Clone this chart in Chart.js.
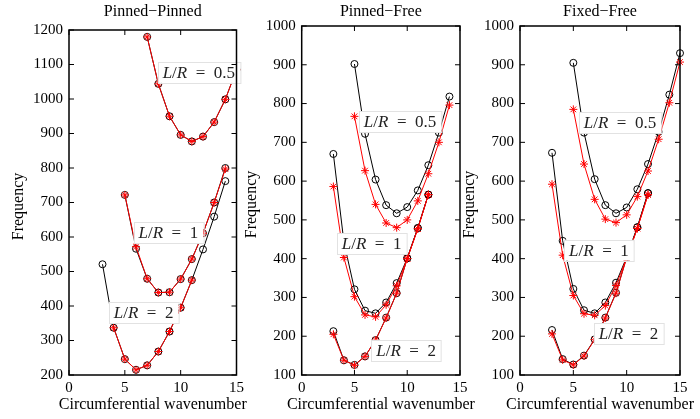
<!DOCTYPE html>
<html>
<head>
<meta charset="utf-8">
<script src="https://cdn.jsdelivr.net/npm/chart.js@4.4.1/dist/chart.umd.min.js"></script>
<style>
  body { margin: 0; background: #fff; }
  #wrap { position: relative; width: 700px; height: 419px; }
  canvas { position: absolute; top: 0; }
</style>
</head>
<body>
<div id="wrap">
  <canvas id="c1" width="262" height="419" style="left:0px"></canvas>
  <canvas id="c2" width="245" height="419" style="left:240px"></canvas>
  <canvas id="c3" width="245" height="419" style="left:455px"></canvas>
</div>
<script>
// Pinned-Pinned
const ppX05 = [7, 8, 9, 10, 11, 12, 13, 14, 15];
const ppBlack05 = [1180, 1044, 950, 896, 877, 891, 933, 999, 1085];
const ppRed05 = [1180, 1044, 950, 896, 877, 891, 933, 999, 1085];
const ppX1 = [5, 6, 7, 8, 9, 10, 11, 12, 13, 14];
const ppBlack1 = [722, 566, 479, 439, 440, 478, 536, 611, 700, 800];
const ppRed1 = [722, 572, 479, 439, 440, 478, 536, 611, 700, 797];
const ppXBlack2 = [3, 4, 5, 6, 7, 8, 9, 10, 11, 12, 13, 14];
const ppBlack2 = [521, 337, 246, 215, 228, 268, 326, 395, 475, 564, 659, 762];
const ppXRed2 = [4, 5, 6, 7, 8, 9, 10, 11];
const ppRed2 = [337, 246, 215, 228, 268, 326, 395, 475];

// Pinned-Free
const pfX05 = [5, 6, 7, 8, 9, 10, 11, 12, 13, 14];
const pfBlack05 = [902, 722, 604, 538, 517, 533, 576, 641, 725, 818];
const pfRed05 = [767, 627, 540, 492, 480, 500, 549, 619, 700, 796];
const pfX1 = [3, 4, 5, 6, 7, 8, 9, 10, 11, 12];
const pfBlack1 = [670, 443, 321, 266, 259, 287, 337, 401, 479, 565];
const pfRed1 = [586, 403, 302, 255, 250, 281, 330, 400, 477, 565];
const pfX2 = [3, 4, 5, 6, 7, 8, 9, 10, 11, 12];
const pfBlack2 = [213, 138, 126, 148, 190, 248, 311, 401, 479, 565];
const pfRed2 = [205, 138, 125, 148, 190, 247, 311, 400, 477, 565];

// Fixed-Free
const ffX05 = [5, 6, 7, 8, 9, 10, 11, 12, 13, 14, 15];
const ffBlack05 = [905, 725, 605, 538, 517, 532, 579, 644, 727, 823, 930];
const ffRed05 = [785, 644, 553, 502, 493, 513, 560, 626, 708, 802, 907];
const ffX1 = [3, 4, 5, 6, 7, 8, 9, 10, 11, 12];
const ffBlack1 = [673, 446, 322, 267, 259, 287, 338, 404, 481, 569];
const ffRed1 = [592, 409, 305, 258, 254, 279, 331, 402, 478, 565];
const ffX2 = [3, 4, 5, 6, 7, 8, 9, 10, 11, 12];
const ffBlack2 = [216, 141, 127, 150, 192, 248, 312, 404, 481, 569];
const ffRed2 = [206, 139, 126, 149, 191, 247, 311, 402, 478, 565];

const titles = ['Pinned\u2212Pinned', 'Pinned\u2212Free', 'Fixed\u2212Free'];
const xTitle = 'Circumferential wavenumber';
const yTitle = 'Frequency';

const serif = '"Liberation Serif", "DejaVu Serif", serif';

function drawLabel(ctx, cx, cy, value) {
  // L/R = value, L and R in italic like the LaTeX labels
  const parts = [['L', 'italic '], ['/', ''], ['R', 'italic '], ['\u2002=\u2002' + value, '']];
  let w = 0;
  parts.forEach(p => { ctx.font = p[1] + '17px ' + serif; p.push(ctx.measureText(p[0]).width); w += p[2]; });
  const bw = w + 10, bh = 21;
  ctx.fillStyle = '#fff';
  ctx.fillRect(cx - bw / 2, cy - bh / 2, bw, bh);
  ctx.strokeStyle = '#e2e2e2';
  ctx.lineWidth = 1;
  ctx.strokeRect(Math.round(cx - bw / 2) + 0.5, Math.round(cy - bh / 2) + 0.5, bw, bh);
  ctx.fillStyle = '#222';
  ctx.textAlign = 'left';
  ctx.textBaseline = 'middle';
  let x = cx - w / 2;
  parts.forEach(p => { ctx.font = p[1] + '17px ' + serif; ctx.fillText(p[0], x, cy + 1); x += p[2]; });
}

const frame = {
  id: 'frame',
  afterDatasetsDraw(chart, args, opts) {
    const { ctx, chartArea: a, scales: { x, y } } = chart;
    ctx.save();
    opts.labels.forEach(l => drawLabel(ctx, x.getPixelForValue(l.x), y.getPixelForValue(l.y), l.text));
    ctx.strokeStyle = '#000';
    ctx.lineWidth = 1;
    ctx.beginPath();
    x.ticks.forEach(t => {
      const px = x.getPixelForValue(t.value);
      ctx.moveTo(px, a.bottom); ctx.lineTo(px, a.bottom - 5);
      ctx.moveTo(px, a.top); ctx.lineTo(px, a.top + 5);
    });
    y.ticks.forEach(t => {
      const py = y.getPixelForValue(t.value);
      ctx.moveTo(a.left, py); ctx.lineTo(a.left + 5, py);
      ctx.moveTo(a.right, py); ctx.lineTo(a.right - 5, py);
    });
    ctx.stroke();
    ctx.lineWidth = 1.5;
    ctx.strokeRect(a.left, a.top, a.width, a.height);
    ctx.fillStyle = '#000';
    ctx.font = '16px ' + serif;
    ctx.textAlign = 'center';
    ctx.textBaseline = 'middle';
    ctx.fillText(opts.title, (a.left + a.right) / 2, 12);
    ctx.fillText(xTitle, (a.left + a.right) / 2, 405);
    ctx.translate(a.left - 50, (a.top + a.bottom) / 2 + 4);
    ctx.rotate(-Math.PI / 2);
    ctx.fillText(yTitle, 0, 0);
    ctx.restore();
  }
};

function pts(xs, ys) { return xs.map((x, i) => ({ x: x, y: ys[i] })); }

function blackSet(xs, ys) {
  return {
    data: pts(xs, ys), borderColor: '#000', borderWidth: 1,
    pointStyle: 'circle', pointRadius: 3.5, pointBorderWidth: 1,
    pointBackgroundColor: 'rgba(0,0,0,0)', pointBorderColor: '#000',
    tension: 0, clip: false, order: 2
  };
}

function redSet(xs, ys) {
  return {
    data: pts(xs, ys), borderColor: '#ff0000', borderWidth: 1,
    pointStyle: 'star', pointRadius: 4, pointBorderWidth: 1,
    pointBorderColor: '#ff0000', pointBackgroundColor: '#ff0000',
    tension: 0, clip: false, order: 1
  };
}

function makeChart(id, c) {
  const tickFont = { family: serif, size: 15 };
  new Chart(document.getElementById(id), {
    type: 'line',
    data: { datasets: c.datasets },
    options: {
      responsive: false,
      animation: false,
      events: [],
      layout: { padding: { top: c.top, right: c.right, bottom: 0, left: 0 } },
      plugins: {
        legend: { display: false },
        tooltip: { enabled: false },
        frame: { title: c.title, labels: c.labels }
      },
      scales: {
        x: {
          type: 'linear', min: 0, max: 15,
          afterFit(s) { s.height = 44; },
          ticks: { stepSize: 5, padding: 4, font: tickFont, color: '#000', maxRotation: 0,
                   callback: v => String(v) },
          grid: { display: false, drawTicks: false },
          border: { display: false }
        },
        y: {
          type: 'linear', min: c.yMin, max: c.yMax,
          afterFit(s) { s.width = c.yWidth; },
          ticks: { stepSize: 100, padding: 6, font: tickFont, color: '#000', autoSkip: false,
                   callback: v => String(v) },
          grid: { display: false, drawTicks: false },
          border: { display: false }
        }
      }
    },
    plugins: [frame]
  });
}

makeChart('c1', {
  title: titles[0], yMin: 200, yMax: 1200, yWidth: 69, top: 30, right: 25.5,
  datasets: [
    blackSet(ppX05, ppBlack05), redSet(ppX05, ppRed05),
    blackSet(ppX1, ppBlack1), redSet(ppX1, ppRed1),
    blackSet(ppXBlack2, ppBlack2), redSet(ppXRed2, ppRed2)
  ],
  labels: [
    { x: 11.63, y: 1077, text: '0.5' },
    { x: 8.9, y: 613, text: '1' },
    { x: 6.68, y: 381, text: '2' }
  ]
});

makeChart('c2', {
  title: titles[1], yMin: 100, yMax: 1000, yWidth: 61.7, top: 26, right: 25,
  datasets: [
    blackSet(pfX05, pfBlack05), redSet(pfX05, pfRed05),
    blackSet(pfX1, pfBlack1), redSet(pfX1, pfRed1),
    blackSet(pfX2, pfBlack2), redSet(pfX2, pfRed2)
  ],
  labels: [
    { x: 9.32, y: 753, text: '0.5' },
    { x: 6.62, y: 438, text: '1' },
    { x: 9.89, y: 164, text: '2' }
  ]
});

makeChart('c3', {
  title: titles[2], yMin: 100, yMax: 1000, yWidth: 65, top: 26, right: 20,
  datasets: [
    blackSet(ffX05, ffBlack05), redSet(ffX05, ffRed05),
    blackSet(ffX1, ffBlack1), redSet(ffX1, ffRed1),
    blackSet(ffX2, ffBlack2), redSet(ffX2, ffRed2)
  ],
  labels: [
    { x: 9.37, y: 751, text: '0.5' },
    { x: 7.4, y: 422, text: '1' },
    { x: 10.17, y: 206, text: '2' }
  ]
});
</script>
</body>
</html>
